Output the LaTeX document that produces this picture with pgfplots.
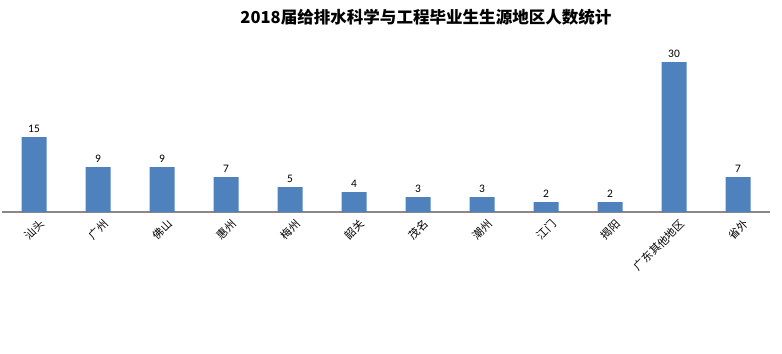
\documentclass[border=0pt]{standalone}
\usepackage{pgfplots}
\pgfplotsset{compat=1.18}
\usepackage{fontspec}
\setmainfont{Carlito}
\newfontfamily\cjk{Noto Sans CJK SC}
\definecolor{barblue}{RGB}{79,129,189}
\definecolor{axgray}{RGB}{136,136,136}
\begin{document}
\begin{tikzpicture}[x=1bp,y=1bp]
\path (-2,-141) rectangle (780,212);
\begin{axis}[
  at={(0,0)}, anchor=south west,
  scale only axis, width=768bp, height=200bp,
  xmin=-0.5, xmax=11.5, ymin=0, ymax=40,
  axis x line*=bottom, axis y line=none,
  x axis line style={axgray, line width=1.2pt, -},
  xtick={0,...,11},
  xticklabels={汕头,广州,佛山,惠州,梅州,韶关,茂名,潮州,江门,揭阳,广东其他地区,省外},
  major tick length=0pt,
  xticklabel style={font=\cjk\fontsize{11}{11}\selectfont, rotate=45, anchor=east, inner sep=0pt, yshift=-13bp, xshift=-1bp},
  ybar, bar width=25bp,
  /pgf/number format/assume math mode=true,
  nodes near coords,
  every node near coord/.append style={font=\fontsize{11.5}{12}\selectfont, black, yshift=1bp},
  clip=false,
]
\addplot[fill=barblue, draw=none] coordinates {
(0,15) (1,9) (2,9) (3,7) (4,5) (5,4) (6,3) (7,3) (8,2) (9,2) (10,30) (11,7)};
\end{axis}
\node[font=\cjk\bfseries\fontsize{16.6}{18}\selectfont] at (424,195) {2018届给排水科学与工程毕业生生源地区人数统计};
\end{tikzpicture}
\end{document}
